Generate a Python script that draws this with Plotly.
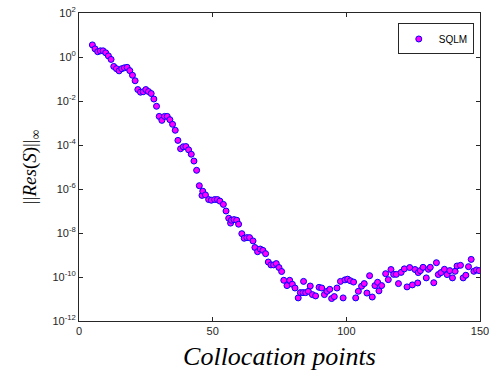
import plotly.graph_objects as go

# Collocation points (x) and log10 of residual infinity norm
x_early = list(range(5, 46))
log_early = [0.55, 0.37, 0.24, 0.28, 0.28, 0.19, 0.05, -0.11, -0.43, -0.53,
             -0.63, -0.53, -0.49, -0.47, -0.62, -0.83, -1.08, -1.48, -1.60, -1.58,
             -1.48, -1.57, -1.66, -1.91, -2.24, -2.70, -2.88, -2.70, -2.70, -2.85,
             -3.06, -3.33, -3.79, -4.17, -4.08, -4.07, -4.22, -4.42, -4.73, -5.15,
             -5.85]

x_mid = [46.0, 46.3, 47.3, 48.5, 49.5, 50.75, 51.75, 52.7, 54.0, 55.0, 56.0, 56.7, 57.0,
         58.0, 59.0, 59.7, 60.9, 61.8, 62.8, 63.8, 65.1, 65.8, 66.8, 67.8, 68.8, 69.8,
         70.8, 71.8, 72.8, 73.8, 74.8, 75.8, 76.6, 77.8, 78.8, 79.8, 80.8]
log_mid = [-6.29, -6.10, -6.27, -6.48, -6.51, -6.48, -6.48, -6.55, -6.70, -7.00, -7.33,
           -7.55, -7.42, -7.39, -7.42, -7.60, -8.03, -8.24, -8.21, -8.21, -8.36, -8.66,
           -8.85, -8.73, -8.79, -8.94, -9.32, -9.45, -9.45, -9.39, -9.57, -9.75, -10.15,
           -10.39, -10.15, -10.33, -10.50]

x_late = [82.0, 82.8, 83.8, 84.0, 84.8, 85.8, 86.5, 87.3, 88.5, 89.8, 90.8, 91.8, 92.8,
          93.8, 94.5, 95.5, 96.5, 97.8, 98.8, 99.5, 100.5, 101.5, 102.7, 103.5, 104.5,
          105.7, 106.7, 107.7, 108.7, 109.7, 110.7, 111.7, 112.2, 113.2, 114.7, 115.7,
          116.7, 117.7, 118.7, 119.5, 120.5, 121.7, 122.7, 123.7, 124.7, 125.7, 126.7,
          126.9, 127.7, 128.7, 129.9, 130.7, 131.4, 132.7, 133.7, 134.4, 135.4, 136.7,
          137.7, 138.7, 139.7, 140.7, 141.4, 142.7, 143.7, 144.7, 145.7, 146.7, 147.7,
          148.7, 149.7]
log_late = [-10.95, -10.71, -10.71, -10.20, -10.71, -10.65, -10.41, -10.80, -10.86, -10.47,
            -10.50, -10.80, -10.65, -10.56, -10.98, -10.89, -10.50, -10.20, -10.95, -10.13,
            -10.10, -10.17, -10.23, -10.95, -10.65, -10.42, -10.30, -10.73, -9.94, -10.91,
            -10.39, -10.24, -10.63, -10.39, -9.85, -10.12, -9.66, -9.88, -9.88, -10.30,
            -9.79, -9.63, -10.45, -9.57, -10.36, -9.66, -10.27, -9.80, -9.71, -9.56,
            -10.04, -9.65, -9.56, -10.26, -9.35, -9.89, -9.80, -9.65, -9.89, -9.71,
            -10.04, -9.74, -9.50, -9.47, -10.04, -9.92, -9.53, -9.20, -9.74, -9.68, -9.71]

x_vals = x_early + x_mid + x_late
res_vals = [10 ** v for v in (log_early + log_mid + log_late)]

y_tick_exps = [-12, -10, -8, -6, -4, -2, 0, 2]
y_tick_vals = [10 ** e for e in y_tick_exps]
y_tick_text = ["10<sup>%d</sup>" % e for e in y_tick_exps]
x_tick_vals = [0, 50, 100, 150]

axis_color = "#262626"
serif = "Liberation Serif, DejaVu Serif, serif"

fig = go.Figure()
fig.add_trace(go.Scatter(
    x=x_vals, y=res_vals, mode="markers", name="SQLM",
    marker=dict(size=6, color="#FF00FF", line=dict(color="#0000FF", width=1)),
))

fig.update_layout(
    width=489, height=371,
    margin=dict(l=79, r=9, t=13, b=50),
    paper_bgcolor="white", plot_bgcolor="white",
    font=dict(family="Liberation Sans, Arial, sans-serif", size=11, color=axis_color),
    showlegend=True,
    legend=dict(x=0.795, y=0.966, xanchor="left", yanchor="top",
                bordercolor=axis_color, borderwidth=1, bgcolor="white",
                font=dict(size=10, color="black"),
                itemwidth=30, tracegroupgap=0),
    xaxis=dict(range=[0, 150], tickvals=x_tick_vals, ticks="inside", ticklen=4,
               tickcolor=axis_color, showline=True, linecolor=axis_color, linewidth=1,
               mirror="ticks", showgrid=False, zeroline=False, automargin=False,
               ticklabeloverflow="allow",
               title=dict(text="<i>Collocation points</i>", standoff=12,
                          font=dict(family=serif, size=26, color="black"))),
    yaxis=dict(type="log", range=[-12, 2], tickvals=y_tick_vals, ticktext=y_tick_text,
               ticks="inside", ticklen=4, tickcolor=axis_color, showline=True,
               linecolor=axis_color, linewidth=1, mirror="ticks", showgrid=False,
               zeroline=False, automargin=False, ticklabeloverflow="allow",
               title=dict(text="||<i>Res</i>(<i>S</i>)||<sub>∞</sub>", standoff=10,
                          font=dict(family=serif, size=19, color="black"))),
)

fig.write_html("out.html")
